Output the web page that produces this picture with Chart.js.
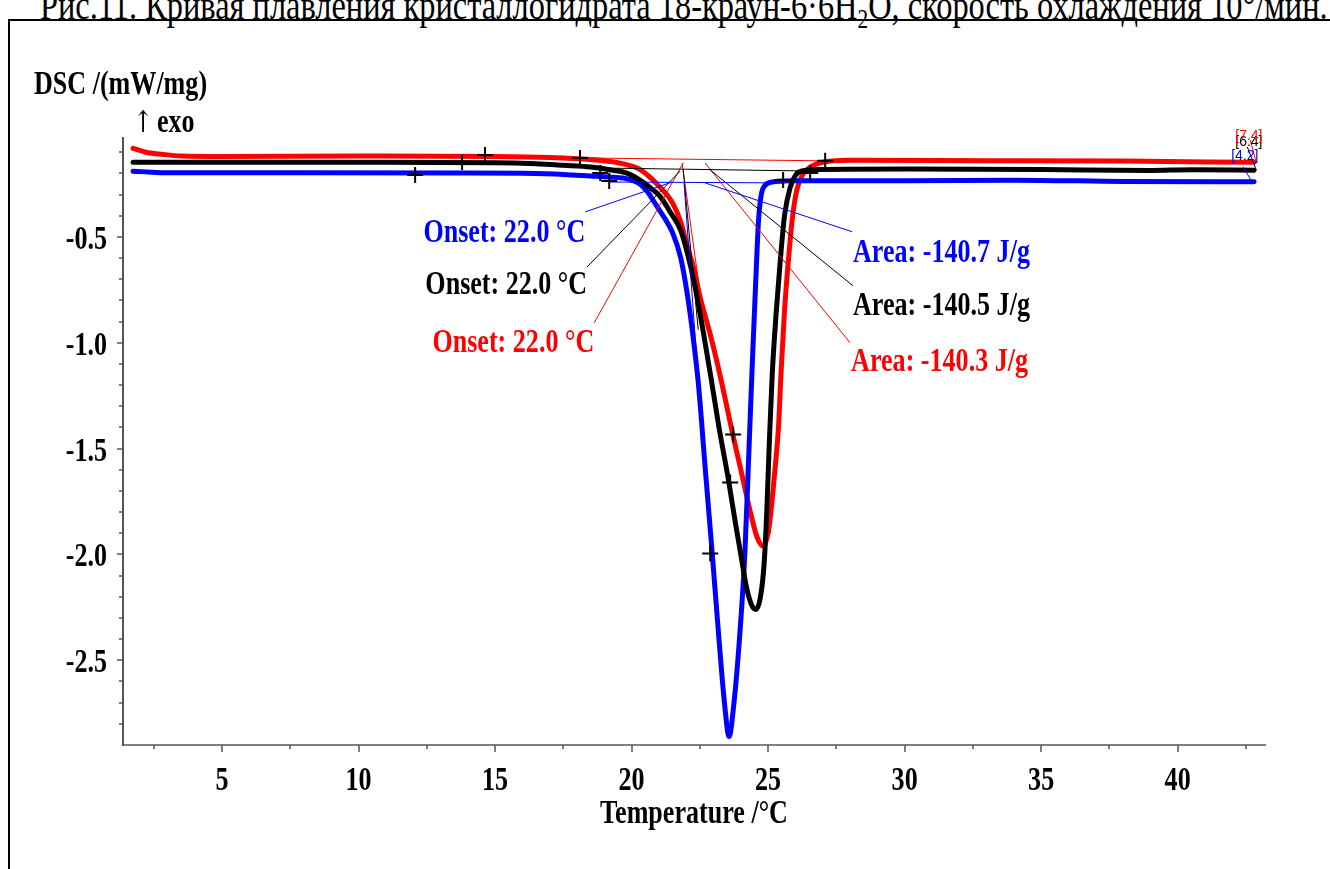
<!DOCTYPE html>
<html>
<head>
<meta charset="utf-8">
<script src="https://cdn.jsdelivr.net/npm/chart.js@4.4.1/dist/chart.umd.min.js"></script>
<style>
  html, body { margin: 0; padding: 0; background: #fff; }
  #wrap { position: relative; width: 1330px; height: 869px; overflow: hidden; }
  #frame { position: absolute; left: 8px; top: 19px; width: 1340px; height: 900px;
           border-left: 2px solid #000; border-top: 2px solid #000; }
  #caption { position: absolute; left: 40px; top: -19px; line-height: 41px;
             font: 41px "Liberation Serif", serif; white-space: nowrap;
             transform: scaleX(0.79); transform-origin: 0 0; }
  #caption sub { font-size: 27px; line-height: 0; }
  canvas { position: absolute; left: 0; top: 0; }
</style>
</head>
<body>
<div id="wrap">
  <div id="caption">Рис.11. Кривая плавления кристаллогидрата 18-краун-6·6H<sub>2</sub>O, скорость охлаждения 10°/мин.</div>
  <div id="frame"></div>
  <canvas id="chart" width="1330" height="869"></canvas>
</div>
<script>
// DSC curves, [temperature °C, DSC mW/mg]
const blueCurve = [
  [1.74,-0.19],[2.2,-0.193],[3,-0.197],[8,-0.197],[14,-0.198],[16,-0.2],[17.5,-0.205],
  [18.5,-0.212],[19.2,-0.217],[19.9,-0.228],[20.3,-0.25],[20.6,-0.29],[20.9,-0.35],
  [21.2,-0.41],[21.5,-0.48],[21.8,-0.6],[22.05,-0.78],[22.25,-0.97],[22.45,-1.2],
  [22.7,-1.6],[22.95,-1.99],[23.2,-2.4],[23.4,-2.7],[23.57,-2.86],[23.75,-2.7],
  [23.95,-2.4],[24.15,-1.99],[24.3,-1.5],[24.42,-1.1],[24.55,-0.7],[24.65,-0.42],
  [24.75,-0.3],[24.9,-0.255],[25.2,-0.24],[26,-0.235],[30,-0.235],[34,-0.232],
  [38,-0.238],[42.8,-0.24]
]
const blackCurve = [
  [1.74,-0.148],[10,-0.148],[15,-0.15],[16.5,-0.155],[17.5,-0.162],[18.5,-0.17],
  [19.3,-0.185],[19.85,-0.2],[20.4,-0.24],[20.8,-0.28],[21.05,-0.31],[21.4,-0.38],
  [21.8,-0.47],[22.05,-0.58],[22.3,-0.72],[22.6,-0.93],[22.9,-1.16],[23.2,-1.4],
  [23.55,-1.65],[23.8,-1.85],[24.0,-2.0],[24.2,-2.15],[24.4,-2.24],[24.56,-2.26],
  [24.72,-2.2],[24.85,-2.05],[24.95,-1.8],[25.05,-1.45],[25.15,-1.15],[25.3,-0.85],
  [25.44,-0.62],[25.6,-0.4],[25.8,-0.27],[26.0,-0.21],[26.2,-0.19],[27,-0.182],
  [30,-0.18],[35,-0.182],[39,-0.186],[40.5,-0.183],[42.8,-0.185]
]
const redCurve = [
  [1.74,-0.082],[2.2,-0.1],[2.8,-0.11],[3.5,-0.118],[5,-0.12],[10,-0.118],[15,-0.12],
  [17,-0.125],[18.5,-0.135],[19.5,-0.15],[20.2,-0.175],[20.6,-0.21],[21.0,-0.26],
  [21.5,-0.34],[21.8,-0.43],[22.05,-0.55],[22.3,-0.66],[22.5,-0.78],[22.9,-0.97],
  [23.25,-1.16],[23.7,-1.43],[24.0,-1.6],[24.35,-1.8],[24.6,-1.92],[24.82,-1.96],
  [25.0,-1.9],[25.1,-1.8],[25.25,-1.6],[25.38,-1.4],[25.47,-1.15],[25.6,-0.85],
  [25.75,-0.6],[25.9,-0.4],[26.05,-0.28],[26.25,-0.21],[26.45,-0.18],[26.9,-0.15],
  [28,-0.138],[33,-0.14],[38,-0.142],[42.8,-0.148]
]

// evaluation lines (baselines, tangents, label pointers)
const blueLines = [
  [[19.21,-0.241],[25.55,-0.245]],
  [[21.92,-0.245],[22.44,-1.175]],
  [[18.30,-0.382],[21.48,-0.241]],
  [[22.69,-0.245],[28.08,-0.476]],
  [[42.40,-0.170],[42.73,-0.241]]
]
const blackLines = [
  [[19.03,-0.175],[26.54,-0.189]],
  [[21.89,-0.184],[22.44,-0.939]],
  [[18.37,-0.642],[21.78,-0.189]],
  [[22.88,-0.184],[28.11,-0.731]],
  [[42.55,-0.075],[42.88,-0.184]]
]
const redLines = [
  [[18.11,-0.127],[27.09,-0.141]],
  [[21.85,-0.151],[22.44,-0.703]],
  [[18.63,-0.906],[21.89,-0.151]],
  [[22.69,-0.151],[28.0,-1.0]],
  [[42.66,-0.042],[42.88,-0.151]]
]

// limit / evaluation markers
const crossMarks = [
  [12.07,-0.208],[13.79,-0.146],[14.63,-0.113],[18.11,-0.127],[18.85,-0.198],
  [19.18,-0.236],[22.88,-1.995],[23.61,-1.66],[23.72,-1.434],[25.55,-0.231],
  [26.54,-0.198],[27.09,-0.141]
]

const onsetTexts = ['Onset: 22.0 °C', 'Onset: 22.0 °C', 'Onset: 22.0 °C']
const areaTexts = ['Area: -140.7 J/g', 'Area: -140.5 J/g', 'Area: -140.3 J/g']
const stepTexts = ['[4.2]', '[6.4]', '[7.4]']

const xTickLabels = [5, 10, 15, 20, 25, 30, 35, 40]
const xMinorTicks = [2.5, 7.5, 12.5, 17.5, 22.5, 27.5, 32.5, 37.5, 42.5]
const yTickLabels = [-0.5, -1.0, -1.5, -2.0, -2.5]
const yMinorTicks = [-0.1, -0.2, -0.3, -0.4, -0.6, -0.7, -0.8, -0.9, -1.1, -1.2, -1.3, -1.4,
  -1.6, -1.7, -1.8, -1.9, -2.1, -2.2, -2.3, -2.4, -2.6, -2.7, -2.8]

const colors = ['#0000ff', '#000000', '#ff0000']

// anchors of the text labels, in data units
const onsetSpots = [[18.30,-0.524], [18.37,-0.772], [18.63,-1.042]]
const areaSpots = [[28.11,-0.62], [28.11,-0.87], [28.04,-1.134]]
const stepSpots = [[41.96,-0.137], [42.11,-0.071], [42.11,-0.0425]]

const SX = 0.79
const BOLD = 'bold 33px "Liberation Serif", serif'

function toXY(pts) {
  return pts.map(p => ({ x: p[0], y: p[1] }))
}

function squashText(ctx, str, x, y, font, color, align) {
  ctx.save()
  ctx.font = font
  ctx.fillStyle = color
  ctx.textBaseline = 'alphabetic'
  ctx.textAlign = 'left'
  const w = ctx.measureText(str).width * SX
  let left = x
  if (align === 'center') left = x - w / 2
  if (align === 'right') left = x - w
  ctx.translate(left, y)
  ctx.scale(SX, 1)
  ctx.fillText(str, 0, 0)
  ctx.restore()
}

const decorPlugin = {
  id: 'decor',
  afterDraw(chart) {
    const ctx = chart.ctx
    const xs = chart.scales.x
    const ys = chart.scales.y
    const { left, bottom } = chart.chartArea

    ctx.save()
    ctx.strokeStyle = '#555'
    ctx.lineWidth = 1.5
    ctx.beginPath()
    xTickLabels.forEach(t => {
      const px = Math.round(xs.getPixelForValue(t))
      ctx.moveTo(px, bottom); ctx.lineTo(px, bottom + 7)
    })
    xMinorTicks.forEach(t => {
      const px = Math.round(xs.getPixelForValue(t))
      ctx.moveTo(px, bottom); ctx.lineTo(px, bottom + 4)
    })
    yTickLabels.forEach(v => {
      const py = Math.round(ys.getPixelForValue(v))
      ctx.moveTo(left, py); ctx.lineTo(left - 6, py)
    })
    yMinorTicks.forEach(v => {
      const py = Math.round(ys.getPixelForValue(v))
      ctx.moveTo(left, py); ctx.lineTo(left - 4, py)
    })
    ctx.stroke()
    ctx.restore()

    xTickLabels.forEach(t => {
      squashText(ctx, String(t), xs.getPixelForValue(t), bottom + 45, BOLD, '#000', 'center')
    })
    yTickLabels.forEach(v => {
      squashText(ctx, v.toFixed(1), left - 16, ys.getPixelForValue(v) + 12, BOLD, '#000', 'right')
    })

    squashText(ctx, 'Temperature /°C', 694, 823, BOLD, '#000', 'center')
    squashText(ctx, 'DSC /(mW/mg)', 34, 94, BOLD, '#000', 'left')
    squashText(ctx, '↑', 133, 132, '30px "DejaVu Serif", serif', '#000', 'left')
    squashText(ctx, 'exo', 157, 132, BOLD, '#000', 'left')

    onsetTexts.forEach((t, i) => {
      const [x, y] = onsetSpots[i]
      squashText(ctx, t, xs.getPixelForValue(x), ys.getPixelForValue(y), BOLD, colors[i], 'right')
    })
    areaTexts.forEach((t, i) => {
      const [x, y] = areaSpots[i]
      squashText(ctx, t, xs.getPixelForValue(x), ys.getPixelForValue(y), BOLD, colors[i], 'left')
    })
    stepTexts.forEach((t, i) => {
      const [x, y] = stepSpots[i]
      ctx.save()
      ctx.font = '14px "Liberation Sans", sans-serif'
      ctx.fillStyle = colors[i]
      ctx.textBaseline = 'alphabetic'
      ctx.fillText(t, xs.getPixelForValue(x), ys.getPixelForValue(y))
      ctx.restore()
    })
  }
}

function thinSets(groups, color) {
  return groups.map(seg => ({
    data: toXY(seg),
    borderColor: color,
    borderWidth: 1,
    pointRadius: 0,
    tension: 0,
    order: 0
  }))
}

const curveStyle = {
  borderWidth: 5,
  pointRadius: 0,
  cubicInterpolationMode: 'monotone',
  borderCapStyle: 'round',
  borderJoinStyle: 'round'
}

const datasets = [
  ...thinSets(blueLines, '#0000ff'),
  ...thinSets(blackLines, '#000000'),
  ...thinSets(redLines, '#ff0000'),
  { ...curveStyle, label: 'black', data: toXY(blackCurve), borderColor: '#000000', order: 1 },
  { ...curveStyle, label: 'blue', data: toXY(blueCurve), borderColor: '#0000ff', order: 2 },
  { ...curveStyle, label: 'red', data: toXY(redCurve), borderColor: '#ff0000', order: 3 },
  {
    type: 'scatter',
    data: toXY(crossMarks),
    pointStyle: 'cross',
    pointRadius: 8,
    borderColor: '#000',
    borderWidth: 2,
    showLine: false,
    order: -1
  }
]

new Chart(document.getElementById('chart'), {
  type: 'line',
  data: { datasets },
  options: {
    responsive: false,
    animation: false,
    devicePixelRatio: 1,
    layout: { padding: { left: 123, right: 65, top: 138, bottom: 124 } },
    plugins: { legend: { display: false }, tooltip: { enabled: false } },
    scales: {
      x: {
        type: 'linear', min: 1.37, max: 43.2,
        grid: { display: false, drawTicks: false },
        border: { display: true, color: '#808080', width: 2 },
        ticks: { display: false },
        afterFit: s => { s.height = 0 }
      },
      y: {
        type: 'linear', min: -2.9, max: -0.033,
        grid: { display: false, drawTicks: false },
        border: { display: true, color: '#555', width: 2 },
        ticks: { display: false },
        afterFit: s => { s.width = 0 }
      }
    }
  },
  plugins: [decorPlugin]
})
</script>
</body>
</html>
